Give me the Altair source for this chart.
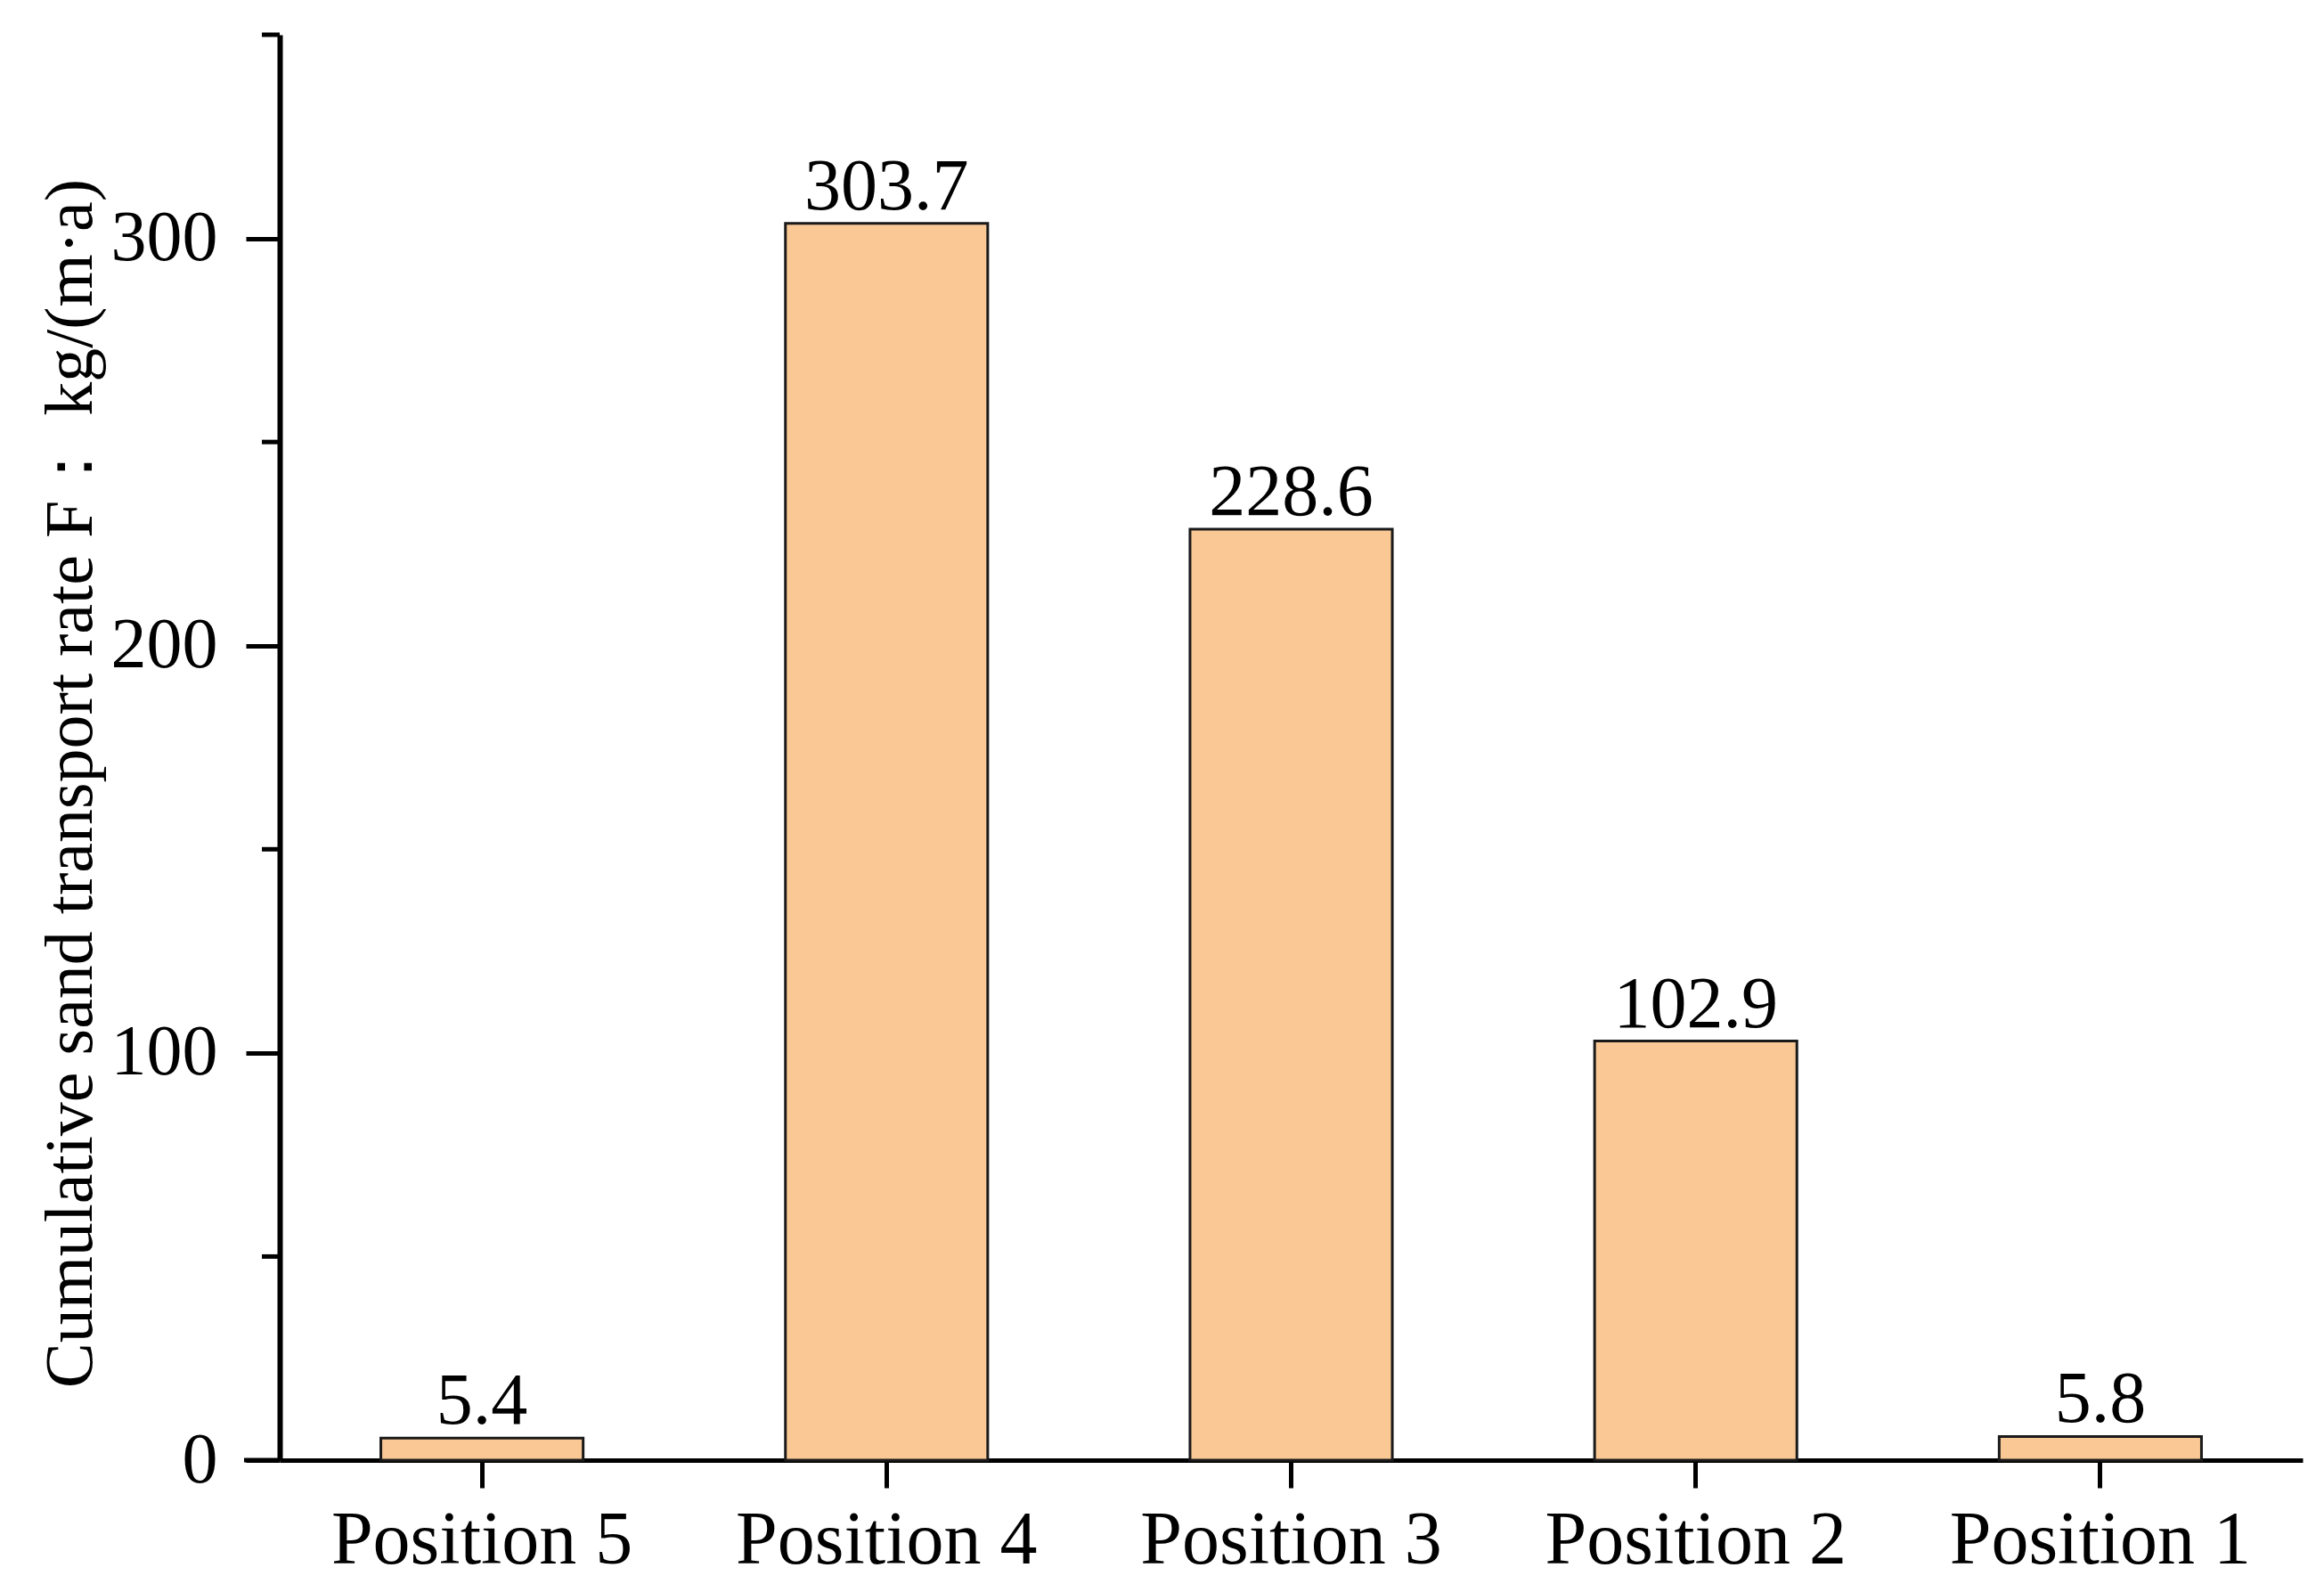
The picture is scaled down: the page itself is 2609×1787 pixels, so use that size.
import altair as alt
import pandas as pd

positions = ["Position 5", "Position 4", "Position 3", "Position 2", "Position 1"]
transport = [5.4, 303.7, 228.6, 102.9, 5.8]
major_ticks = [0, 100, 200, 300]
minor_ticks = [50, 150, 250, 350]

W, H = 2271, 1600
FONT = "Liberation Serif"
BAR_FILL = "#F9C894"

df = pd.DataFrame({"position": positions, "F": transport})
minor = pd.DataFrame({"F": minor_ticks})
origin = pd.DataFrame({"F": [0]})

y_scale = alt.Scale(domain=[0, 350], nice=False, zero=True)
x_scale = alt.Scale(paddingInner=0.5, paddingOuter=0.25)

x_enc = alt.X(
    "position:N",
    sort=positions,
    title=None,
    scale=x_scale,
    axis=alt.Axis(
        labelAngle=0,
        labelFont=FONT,
        labelFontSize=84,
        labelColor="black",
        labelPadding=18,
        labelLimit=0,
        tickSize=31,
        tickWidth=5,
        tickColor="black",
        domainWidth=5,
        domainColor="black",
        grid=False,
    ),
)

y_enc = alt.Y(
    "F:Q",
    scale=y_scale,
    title="Cumulative sand transport rate F： kg/(m·a)",
    axis=alt.Axis(
        values=major_ticks,
        labelFont=FONT,
        labelFontSize=80,
        labelColor="black",
        labelPadding=32,
        tickSize=38,
        tickWidth=5,
        tickColor="black",
        domainWidth=6,
        domainColor="black",
        grid=False,
        titleFont=FONT,
        titleFontSize=76,
        titleFontWeight="normal",
        titleColor="black",
        titleAngle=270,
        titleBaseline="alphabetic",
        titleAlign="center",
        titleX=-212,
        titleY=840,
    ),
)

bars = (
    alt.Chart(df)
    .mark_bar(color=BAR_FILL, stroke="#1a1a1a", strokeWidth=3)
    .encode(x=x_enc, y=y_enc)
)

labels = (
    alt.Chart(df)
    .mark_text(font=FONT, fontSize=82, baseline="alphabetic", dy=-16, color="black")
    .encode(
        x=alt.X("position:N", sort=positions, scale=x_scale),
        y=alt.Y("F:Q", scale=y_scale),
        text=alt.Text("F:Q", format=".1f"),
    )
)

# minor ticks on the y axis (Origin style)
minor_rules = (
    alt.Chart(minor)
    .mark_rule(color="black", strokeWidth=5)
    .encode(y=alt.Y("F:Q", scale=y_scale), x=alt.value(-20), x2=alt.value(0))
)

# x axis line runs a little past the y axis
x_stub = (
    alt.Chart(origin)
    .mark_rule(color="black", strokeWidth=5)
    .encode(y=alt.Y("F:Q", scale=y_scale), x=alt.value(-40), x2=alt.value(0))
)

chart = (
    alt.layer(bars, labels, minor_rules, x_stub)
    .properties(
        width=W,
        height=H,
        autosize=alt.AutoSizeParams(type="none"),
        padding={"left": 306, "top": 31, "right": 16, "bottom": 140},
    )
    .configure_view(stroke=None)
)

chart.save("out.html", embed_options={"renderer": "svg", "actions": False})
